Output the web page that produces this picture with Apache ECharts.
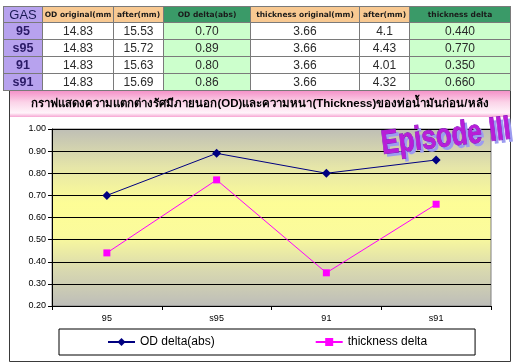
<!DOCTYPE html>
<html>
<head>
<meta charset="utf-8">
<script src="https://cdn.jsdelivr.net/npm/echarts@6/dist/echarts.min.js"></script>
<style>
  html, body { margin: 0; padding: 0; width: 520px; height: 364px; background: #fff; overflow: hidden; }
  #chart { position: absolute; left: 0; top: 0; width: 520px; height: 364px; }
  #tbl { position: absolute; left: 3px; top: 6px; border-collapse: collapse; table-layout: fixed; z-index: 2; }
  #tbl td { border: 1px solid #7a7a7a; padding: 0; text-align: center; overflow: hidden; white-space: nowrap; box-sizing: border-box; }
  #tbl tr.hdr td { height: 13px; font: bold 7.5px "DejaVu Sans", sans-serif; color: #1a1a1a; line-height: 11px; }
  #tbl tr.row td { height: 17px; font: 12px "Liberation Sans", Arial, sans-serif; color: #2a2a2a; line-height: 15px; }
  #tbl td.gas { background: #b7a2ee; color: #2a1a66 !important; font-weight: bold !important; font-size: 12.5px !important; }
  #tbl td.gash { background: #b7a2ee; font: 13px "Liberation Sans", Arial, sans-serif !important; color: #1a1a55 !important; }
  #tbl td.peach { background: #f8c992; }
  #tbl td.green { background: #3a9a68; }
  #tbl td.lg { background: #ccffcc; }
  #tbl td.wh { background: #ffffff; }
</style>
</head>
<body>
<div id="chart"></div>
<table id="tbl">
  <colgroup>
    <col style="width:39px"><col style="width:71px"><col style="width:50px"><col style="width:87px">
    <col style="width:109px"><col style="width:50px"><col style="width:101px">
  </colgroup>
  <tbody id="tbody"></tbody>
</table>
<script>
// ---- data ----
const categories = ['95', 's95', '91', 's91'];
const odOriginal = [14.83, 14.83, 14.83, 14.83];
const odAfter = [15.53, 15.72, 15.63, 15.69];
const odDelta = [0.70, 0.89, 0.80, 0.86];
const thicknessOriginal = [3.66, 3.66, 3.66, 3.66];
const thicknessAfter = [4.1, 4.43, 4.01, 4.32];
const thicknessDelta = [0.440, 0.770, 0.350, 0.660];
const tableHeaders = ['GAS', 'OD original(mm', 'after(mm)', 'OD delta(abs)', 'thickness original(mm)', 'after(mm)', 'thickness delta'];
const seriesNames = ['OD delta(abs)', 'thickness delta'];
const chartTitle = 'กราฟแสดงความแตกต่างรัศมีภายนอก(OD)และความหนา(Thickness)ของท่อน้ำมันก่อน/หลัง';
const yMin = 0.2, yMax = 1.0, yStep = 0.1;

// ---- table ----
const tb = document.getElementById('tbody');
const hdrClass = ['gash', 'peach', 'peach', 'green', 'peach', 'peach', 'green'];
let h = '<tr class="hdr">' + tableHeaders.map((t, i) => `<td class="${hdrClass[i]}">${t}</td>`).join('') + '</tr>';
categories.forEach((c, i) => {
  h += '<tr class="row">' +
    `<td class="gas">${c}</td>` +
    `<td class="wh">${odOriginal[i].toFixed(2)}</td>` +
    `<td class="wh">${odAfter[i].toFixed(2)}</td>` +
    `<td class="lg">${odDelta[i].toFixed(2)}</td>` +
    `<td class="wh">${thicknessOriginal[i].toFixed(2)}</td>` +
    `<td class="wh">${String(thicknessAfter[i])}</td>` +
    `<td class="lg">${thicknessDelta[i].toFixed(3)}</td>` +
    '</tr>';
});
tb.innerHTML = h;

// ---- chart ----
const chart = echarts.init(document.getElementById('chart'), null, { renderer: 'canvas' });
const font = '"Liberation Sans", Arial, sans-serif';
const wordFont = 'bold 26px "Liberation Sans Narrow", "Liberation Sans", sans-serif';
chart.setOption({
  backgroundColor: '#ffffff',
  animation: false,
  graphic: [
    { type: 'rect', z: 0, silent: true, shape: { x: 9.5, y: 89.5, width: 501, height: 272 },
      style: { fill: 'none', stroke: '#3a3a3a', lineWidth: 1 } },
    { type: 'rect', z: 1, shape: { x: 10, y: 90, width: 500, height: 27 },
      style: { fill: new echarts.graphic.LinearGradient(0, 0, 0, 1, [
        { offset: 0, color: '#f48cc6' }, { offset: 0.45, color: '#fbd3e8' },
        { offset: 0.85, color: '#fff4fa' }, { offset: 1, color: '#f6a6d3' }]) } },
    { type: 'text', z: 50, x: 449, y: 140, rotation: 0.12, scaleY: 1.3,
      style: { text: 'Episode III', font: wordFont,
        fill: '#9c9cf0', align: 'center', verticalAlign: 'middle' } },
    { type: 'text', z: 51, x: 446, y: 137, rotation: 0.12, scaleY: 1.3,
      style: { text: 'Episode III', font: wordFont,
        fill: '#b81ed8', stroke: '#7a10b8', lineWidth: 0.6, align: 'center', verticalAlign: 'middle' } }
  ],
  title: {
    text: chartTitle, left: 'center', top: 98, padding: 0,
    textStyle: { fontSize: 11.5, fontWeight: 'bold', color: '#000', fontFamily: font }
  },
  legend: {
    left: 59, top: 329, padding: [7, 48, 7, 48], itemGap: 100, itemWidth: 27, itemHeight: 10,
    borderColor: '#000', borderWidth: 1, backgroundColor: '#fff',
    textStyle: { fontSize: 12, color: '#000', fontFamily: font },
    data: seriesNames
  },
  grid: {
    left: 52, right: 29, top: 129, bottom: 58, show: true, borderColor: '#808080', borderWidth: 1,
    backgroundColor: new echarts.graphic.LinearGradient(0, 0, 0, 1, [
      { offset: 0, color: '#bebeb6' }, { offset: 0.22, color: '#e6e6a8' },
      { offset: 0.42, color: '#fdfd96' }, { offset: 0.6, color: '#fbfb9c' },
      { offset: 0.8, color: '#d8d8b0' }, { offset: 1, color: '#bdbdb9' }])
  },
  xAxis: {
    type: 'category', data: categories, boundaryGap: true,
    axisLine: { lineStyle: { color: '#000' } },
    axisTick: { show: true, length: 4, lineStyle: { color: '#000' } },
    axisLabel: { fontSize: 9, color: '#000', fontFamily: font, margin: 8 }
  },
  yAxis: {
    type: 'value', min: yMin, max: yMax, interval: yStep,
    axisLine: { show: true, lineStyle: { color: '#000' } },
    axisTick: { show: true, length: 4, lineStyle: { color: '#000' } },
    axisLabel: { fontSize: 9, color: '#000', fontFamily: font, margin: 6, formatter: v => v.toFixed(2) },
    splitLine: { show: true, lineStyle: { color: '#000', width: 1 } }
  },
  series: [
    { name: seriesNames[0], type: 'line', data: odDelta, symbol: 'diamond', symbolSize: 9,
      lineStyle: { color: '#000080', width: 1 }, itemStyle: { color: '#000080' } },
    { name: seriesNames[1], type: 'line', data: thicknessDelta, symbol: 'rect', symbolSize: 7,
      lineStyle: { color: '#ff00ff', width: 1 }, itemStyle: { color: '#ff00ff' } }
  ]
});
</script>
</body>
</html>
